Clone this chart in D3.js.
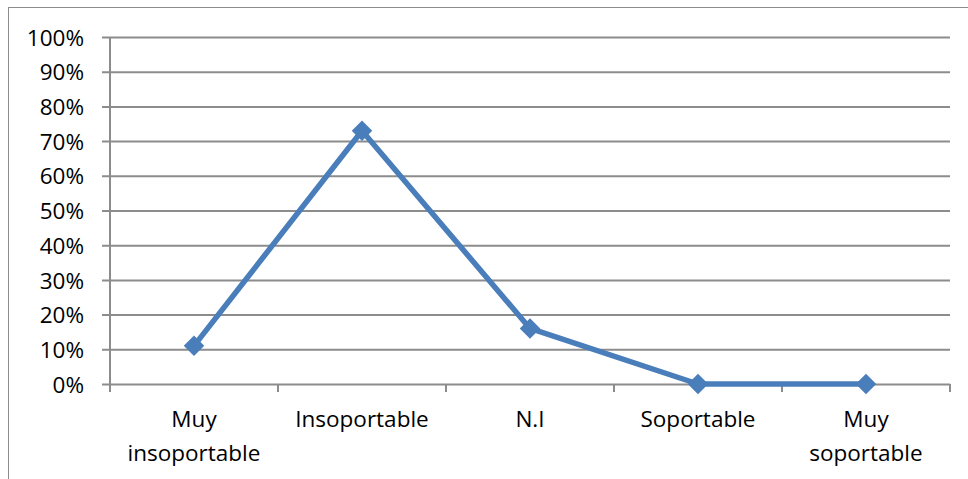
<!DOCTYPE html>
<html>
<head>
<meta charset="utf-8">
<script src="https://cdn.jsdelivr.net/npm/d3@7"></script>
<style>
  html, body { margin: 0; padding: 0; background: #fff; }
  svg { display: block; }
</style>
</head>
<body>
<svg id="chart" width="968" height="479"></svg>
<script>
// Chart data
const categories = [["Muy", "insoportable"], ["Insoportable"], ["N.I"], ["Soportable"], ["Muy", "soportable"]];
const values = [0.11, 0.73, 0.16, 0, 0];
const yTicks = [0, 0.1, 0.2, 0.3, 0.4, 0.5, 0.6, 0.7, 0.8, 0.9, 1.0];

const svg = d3.select("#chart");
const plot = { left: 110, right: 950, top: 37, bottom: 384 };
const font = "'Open Sans', sans-serif";

// outer frame
svg.append("rect")
  .attr("x", 8.5).attr("y", 7.5)
  .attr("width", 980).attr("height", 500)
  .attr("fill", "none").attr("stroke", "#8c8c8c").attr("stroke-width", 1);

const x = d3.scaleBand()
  .domain(categories.map((d, i) => i))
  .range([plot.left, plot.right])
  .paddingInner(0).paddingOuter(0);

const y = d3.scaleLinear().domain([0, 1]).range([plot.bottom, plot.top]);

// horizontal gridlines with short outward ticks
const yAxis = d3.axisLeft(y)
  .tickValues(yTicks)
  .tickFormat(d3.format(".0%"));

const gy = svg.append("g")
  .attr("transform", `translate(${plot.left - 8},0)`)
  .call(yAxis);
gy.select(".domain").remove();
gy.selectAll(".tick line")
  .attr("x1", 0)
  .attr("x2", plot.right - plot.left + 8)
  .attr("stroke", "#8c8c8c").attr("stroke-width", 2);
gy.selectAll(".tick text")
  .attr("x", -18)
  .attr("dy", "0.36em")
  .attr("fill", "#000")
  .style("font-family", font).style("font-size", "22.5px");

// vertical axis line
svg.append("line")
  .attr("x1", plot.left).attr("x2", plot.left)
  .attr("y1", plot.top).attr("y2", plot.bottom + 8)
  .attr("stroke", "#8c8c8c").attr("stroke-width", 2);

// category tick marks at band boundaries
const boundaries = d3.range(categories.length + 1).map(i => plot.left + i * x.bandwidth());
svg.append("g").selectAll("line")
  .data(boundaries)
  .join("line")
  .attr("x1", d => d).attr("x2", d => d)
  .attr("y1", plot.bottom).attr("y2", plot.bottom + 8)
  .attr("stroke", "#8c8c8c").attr("stroke-width", 2);

// category labels
const labels = svg.append("g")
  .style("font-family", font).style("font-size", "22.5px").attr("fill", "#000");
categories.forEach((lines, i) => {
  const cx = x(i) + x.bandwidth() / 2;
  const t = labels.append("text").attr("text-anchor", "middle");
  lines.forEach((ln, j) => {
    t.append("tspan").attr("x", cx).attr("y", 427 + j * 34).text(ln);
  });
});

// series line
const cxOf = i => x(i) + x.bandwidth() / 2;
const line = d3.line().x((d, i) => cxOf(i)).y(d => y(d));
svg.append("path")
  .datum(values)
  .attr("d", line)
  .attr("fill", "none")
  .attr("stroke", "#4a7ebb")
  .attr("stroke-width", 5.5)
  .attr("stroke-linejoin", "round");

// diamond markers
const diamond = d3.symbol().type(d3.symbolSquare).size(210);
svg.append("g").selectAll("path")
  .data(values)
  .join("path")
  .attr("d", diamond)
  .attr("transform", (d, i) => `translate(${cxOf(i)},${y(d)}) rotate(45)`)
  .attr("fill", "#4a7ebb");
</script>
</body>
</html>
